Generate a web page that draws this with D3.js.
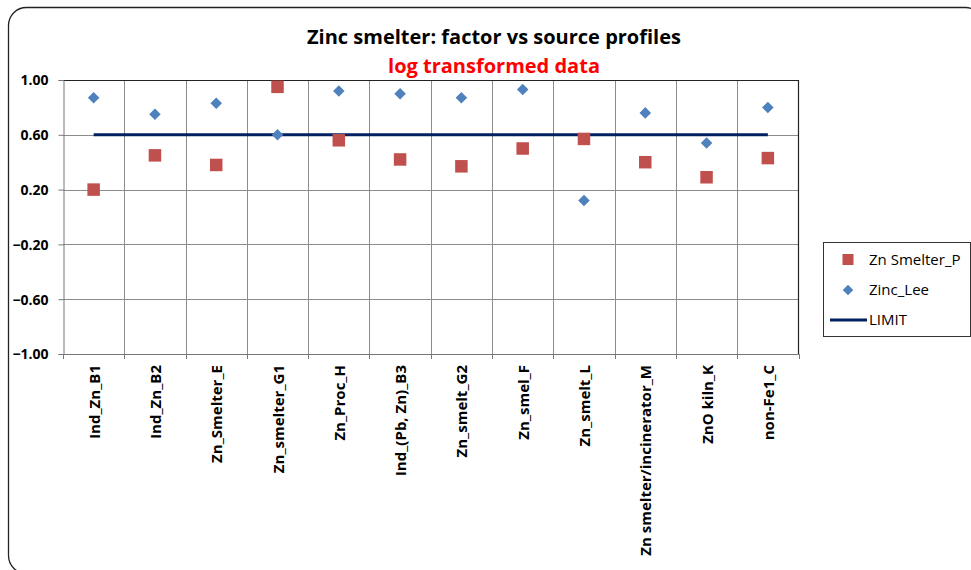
<!DOCTYPE html>
<html>
<head>
<meta charset="utf-8">
<script src="https://cdn.jsdelivr.net/npm/d3@7/dist/d3.min.js"></script>
<style>
  html, body { margin: 0; padding: 0; background: #fff; }
  svg text { font-family: "Open Sans", "Noto Sans", sans-serif; }
</style>
</head>
<body>
<svg id="chart" width="971" height="570"></svg>
<script>
// Source profile names along the x axis
const categories = [
  "Ind_Zn_B1", "Ind_Zn_B2", "Zn_Smelter_E", "Zn_smelter_G1", "Zn_Proc_H",
  "Ind_(Pb, Zn)_B3", "Zn_smelt_G2", "Zn_smel_F", "Zn_smelt_L",
  "Zn smelter/incinerator_M", "ZnO kiln_K", "non-Fe1_C"
];
// Correlation of the factor with each profile
const znSmelterP = [0.20, 0.45, 0.38, 0.95, 0.56, 0.42, 0.37, 0.50, 0.57, 0.40, 0.29, 0.43];
const zincLee    = [0.87, 0.75, 0.83, 0.60, 0.92, 0.90, 0.87, 0.93, 0.12, 0.76, 0.54, 0.80];
const limitValue = 0.60;
const yTicks = [-1.00, -0.60, -0.20, 0.20, 0.60, 1.00];

const svg = d3.select("#chart");

// Outer chart frame
svg.append("rect")
  .attr("x", 8.5).attr("y", 7.5).attr("width", 975).attr("height", 566)
  .attr("rx", 18).attr("ry", 18)
  .attr("fill", "#fff").attr("stroke", "#222").attr("stroke-width", 1.3);

const plot = { left: 63, top: 80, right: 798.5, bottom: 354 };

const x = d3.scaleBand().domain(categories).range([plot.left, plot.right]).padding(0);
const y = d3.scaleLinear().domain([-1, 1]).range([plot.bottom, plot.top]);

// Horizontal gridlines
svg.append("g").selectAll("line").data(yTicks).join("line")
  .attr("x1", plot.left).attr("x2", plot.right)
  .attr("y1", d => Math.round(y(d)) + 0.5).attr("y2", d => Math.round(y(d)) + 0.5)
  .attr("stroke", "#8c8c8c").attr("stroke-width", 1);

// Vertical gridlines at category boundaries
const bounds = categories.map(c => x(c)).concat([plot.right]);
svg.append("g").selectAll("line").data(bounds.slice(1, -1)).join("line")
  .attr("x1", d => Math.round(d) + 0.5).attr("x2", d => Math.round(d) + 0.5)
  .attr("y1", plot.top).attr("y2", plot.bottom)
  .attr("stroke", "#8c8c8c").attr("stroke-width", 1);

// Top and right plot border
svg.append("path")
  .attr("d", `M${plot.left},${plot.top + 0.5}H${plot.right}V${plot.bottom}`)
  .attr("fill", "none").attr("stroke", "#222").attr("stroke-width", 1.2);

// Y axis
const yAxis = d3.axisLeft(y).tickValues(yTicks).tickFormat(d3.format(".2f")).tickSize(5).tickPadding(10);
const gy = svg.append("g").attr("transform", `translate(${plot.left + 0.5},0)`).call(yAxis);
gy.select(".domain").attr("stroke", "#777");
gy.selectAll(".tick line").attr("stroke", "#777");
gy.selectAll(".tick text")
  .attr("font-size", 14).attr("font-weight", "bold").attr("fill", "#000")
  .attr("dy", "0.35em");

// X axis: baseline with boundary ticks
svg.append("line")
  .attr("x1", plot.left).attr("x2", plot.right)
  .attr("y1", plot.bottom + 0.5).attr("y2", plot.bottom + 0.5)
  .attr("stroke", "#777").attr("stroke-width", 1.2);
svg.append("g").selectAll("line").data(bounds).join("line")
  .attr("x1", d => Math.round(d) + 0.5).attr("x2", d => Math.round(d) + 0.5)
  .attr("y1", plot.bottom).attr("y2", plot.bottom + 5)
  .attr("stroke", "#777");

// Rotated category labels
svg.append("g").selectAll("text").data(categories).join("text")
  .attr("transform", d => `translate(${x(d) + x.bandwidth() / 2 + 6},365) rotate(-90)`)
  .attr("text-anchor", "end")
  .attr("font-size", 15).attr("font-weight", "bold").attr("fill", "#000")
  .text(d => d);

const cx = d => x(d) + x.bandwidth() / 2;

// LIMIT line
svg.append("line")
  .attr("x1", cx(categories[0])).attr("x2", cx(categories[categories.length - 1]))
  .attr("y1", y(limitValue)).attr("y2", y(limitValue))
  .attr("stroke", "#002060").attr("stroke-width", 3);

// Zinc_Lee diamonds
const diamond = d3.symbol().type(d3.symbolDiamond2).size(85);
svg.append("g").selectAll("path").data(zincLee).join("path")
  .attr("transform", (d, i) => `translate(${cx(categories[i])},${y(d)})`)
  .attr("d", diamond)
  .attr("fill", "#4F81BD");

// Zn Smelter_P squares
const sq = 12.5;
svg.append("g").selectAll("rect").data(znSmelterP).join("rect")
  .attr("x", (d, i) => cx(categories[i]) - sq / 2)
  .attr("y", d => y(d) - sq / 2)
  .attr("width", sq).attr("height", sq)
  .attr("fill", "#C0504D");

// Titles
svg.append("text")
  .attr("x", 494).attr("y", 44).attr("text-anchor", "middle")
  .attr("font-size", 20).attr("font-weight", "bold").attr("fill", "#000")
  .text("Zinc smelter: factor vs source profiles");
svg.append("text")
  .attr("x", 494).attr("y", 73).attr("text-anchor", "middle")
  .attr("font-size", 20).attr("font-weight", "bold").attr("fill", "#FF0000")
  .text("log transformed data");

// Legend
const lg = svg.append("g");
lg.append("rect")
  .attr("x", 823.5).attr("y", 242.5).attr("width", 147).attr("height", 94)
  .attr("fill", "#fff").attr("stroke", "#333").attr("stroke-width", 1);
lg.append("rect")
  .attr("x", 848 - 5.5).attr("y", 259.5 - 5.5).attr("width", 11).attr("height", 11)
  .attr("fill", "#C0504D");
lg.append("path")
  .attr("transform", "translate(848,290)")
  .attr("d", d3.symbol().type(d3.symbolDiamond2).size(70))
  .attr("fill", "#4F81BD");
lg.append("line")
  .attr("x1", 830).attr("x2", 867).attr("y1", 320).attr("y2", 320)
  .attr("stroke", "#002060").attr("stroke-width", 3);
const legendItems = ["Zn Smelter_P", "Zinc_Lee", "LIMIT"];
lg.selectAll("text.lbl").data(legendItems).join("text")
  .attr("class", "lbl")
  .attr("x", 869)
  .attr("y", (d, i) => [259.5, 290, 320][i])
  .attr("dy", "0.36em")
  .attr("font-size", 15).attr("fill", "#000")
  .text(d => d);
</script>
</body>
</html>
